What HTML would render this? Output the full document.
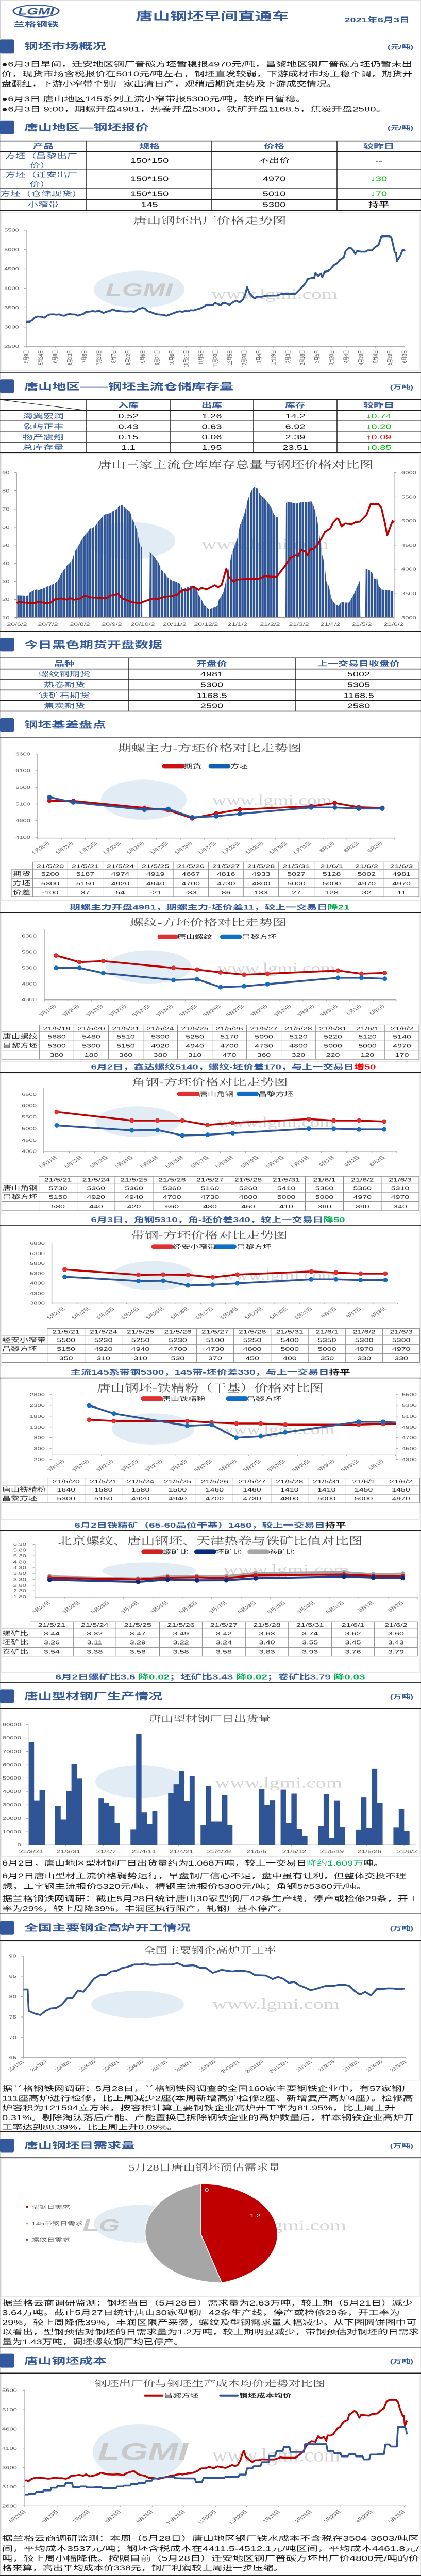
<!DOCTYPE html>
<html><head><meta charset="utf-8">
<style>
html,body{margin:0;padding:0;background:#fff;height:100%;overflow:hidden}
svg#pg{display:block;width:100vw;height:100vh;position:fixed;left:0;top:0}
text{font-family:"Liberation Sans","Noto Sans CJK SC",sans-serif}
.h{font-size:27px;font-weight:bold;fill:#34589c}
.u{font-size:17px;font-weight:bold;fill:#34589c;text-anchor:end}
.p{font-size:20.5px;fill:#1a1a1a}
.ct{font-family:"Liberation Serif","Noto Serif CJK SC",serif;font-size:28px;fill:#4a4a4a;text-anchor:middle}
.ax{font-size:13px;fill:#595959}
.axe{font-size:13px;fill:#595959;text-anchor:end}
.xl{font-size:12px;fill:#595959;text-anchor:end}
.th{font-size:20px;font-weight:bold;fill:#34589c;text-anchor:middle}
.tn{font-size:20px;fill:#111;text-anchor:middle}
.tl{font-size:20px;fill:#34589c;text-anchor:middle}
.tb{font-size:16px;fill:#262626;text-anchor:middle}
.tbl{font-size:17px;fill:#262626}
.sm{font-size:20px;font-weight:bold;fill:#34589c;text-anchor:middle}
.lg{font-size:17px;fill:#262626}
.wm{font-family:"Liberation Serif",serif;font-size:44px;fill:#d4d4d4}
.wl{font-size:52px;font-weight:bold;fill:#c9c9c9;font-style:italic}
path,polyline,line{vector-effect:non-scaling-stroke}
</style></head>
<body>
<svg id="pg" viewBox="0 0 817 7593" preserveAspectRatio="none" xmlns="http://www.w3.org/2000/svg">
<defs>
<pattern id="st" patternUnits="userSpaceOnUse" width="10.7" height="20"><rect x="0" y="0" width="8.6" height="20" fill="#2f5597"/></pattern>
</defs>
<rect x="0.5" y="0.5" width="815.5" height="7592" fill="#fff" stroke="#cfcfcf"/>

<ellipse cx="70" cy="33" rx="44" ry="18" fill="none" stroke="#34589c" stroke-width="3"/>
<text x="70" y="43" text-anchor="middle" style="font-size:28px;font-weight:bold;fill:#34589c;font-style:italic">LGMI</text>
<text x="70" y="79" text-anchor="middle" style="font-size:21px;font-weight:bold;fill:#34589c" textLength="88" lengthAdjust="spacingAndGlyphs">兰格钢铁</text>
<text x="412" y="59" text-anchor="middle" style="font-size:33px;font-weight:bold;fill:#34589c" textLength="297" lengthAdjust="spacingAndGlyphs">唐山钢坯早间直通车</text>
<text x="795" y="65" text-anchor="end" style="font-size:20px;font-weight:bold;fill:#34589c">2021年6月3日</text>

<rect x="0" y="116" width="27" height="41" rx="3" fill="#34589c"/>
<text class="h" x="47" y="146" textLength="159" lengthAdjust="spacingAndGlyphs">钢坯市场概况</text>
<text class="u" x="802" y="144">(元/吨)</text>

<text class="p" x="3" y="197" textLength="797" lengthAdjust="spacingAndGlyphs">●6月3日早间，迁安地区钢厂普碳方坯暂稳报4970元/吨，昌黎地区钢厂普碳方坯仍暂未出</text>
<text class="p" x="3" y="225" textLength="798" lengthAdjust="spacingAndGlyphs">价，现货市场含税报价在5010元/吨左右，钢坯直发较弱，下游成材市场主稳个调，期货开</text>
<text class="p" x="3" y="254" textLength="651" lengthAdjust="spacingAndGlyphs">盘翻红，下游小窄带个别厂家出清日产，观稍后期货走势及下游成交情况。</text>
<text class="p" x="3" y="299" textLength="591" lengthAdjust="spacingAndGlyphs">●6月3日  唐山地区145系列主流小窄带报5300元/吨，较昨日暂稳。</text>
<text class="p" x="3" y="329" textLength="747" lengthAdjust="spacingAndGlyphs">●6月3日  9:00，期螺开盘4981，热卷开盘5300，铁矿开盘1168.5，焦炭开盘2580。</text>

<rect x="0" y="355" width="27" height="41" rx="3" fill="#34589c"/>
<text class="h" x="47" y="385" textLength="242" lengthAdjust="spacingAndGlyphs">唐山地区—钢坯报价</text>
<text class="u" x="802" y="383">(元/吨)</text>

<g stroke="#1a1a1a" stroke-width="1.5">
<line x1="0" y1="415.5" x2="817" y2="415.5"/><line x1="0" y1="447" x2="817" y2="447"/><line x1="0" y1="500" x2="817" y2="500"/><line x1="0" y1="556" x2="817" y2="556"/><line x1="0" y1="588.6" x2="817" y2="588.6"/><line x1="0" y1="620" x2="817" y2="620"/>
<line x1="168" y1="415.5" x2="168" y2="620"/><line x1="411" y1="415.5" x2="411" y2="620"/><line x1="654" y1="415.5" x2="654" y2="620"/>
</g>
<text class="th" x="84" y="438">产品</text><text class="th" x="290" y="438">规格</text><text class="th" x="532" y="438">价格</text><text class="th" x="735" y="438">较昨日</text>
<text class="tl" x="80" y="466">方坯（昌黎出厂</text><text class="tl" x="78" y="495">价）</text>
<text class="tn" x="290" y="480">150*150</text><text class="tn" x="532" y="480">不出价</text><text class="tn" x="735" y="480" style="font-weight:bold">--</text>
<text class="tl" x="80" y="522">方坯（迁安出厂</text><text class="tl" x="78" y="550">价）</text>
<text class="tn" x="290" y="534">150*150</text><text class="tn" x="532" y="534">4970</text><text class="tn" x="735" y="534" style="fill:#00c000">↓30</text>
<text class="tl" x="80" y="578">方坯（仓储现货）</text>
<text class="tn" x="290" y="578">150*150</text><text class="tn" x="532" y="578">5010</text><text class="tn" x="735" y="578" style="fill:#00c000">↓70</text>
<text class="tl" x="84" y="610">小窄带</text>
<text class="tn" x="290" y="610">145</text><text class="tn" x="532" y="610">5300</text><text class="tn" x="735" y="610" style="font-weight:bold">持平</text>

<rect x="2" y="626" width="812" height="467" fill="none" stroke="#d9d9d9"/>
<ellipse cx="270" cy="853" rx="88" ry="55" fill="#dbe7f3" opacity=".8"/>
<text class="wl" x="205" y="872">LGMI</text>
<text class="wm" x="410" y="881" textLength="245" lengthAdjust="spacingAndGlyphs">www.lgmi.com</text>
<text class="ct" x="407" y="660" textLength="297" lengthAdjust="spacingAndGlyphs">唐山钢坯出厂价格走势图</text>
<g transform="translate(0,640) scale(.5211,.4082)">
<path d="M98 95V933H1508M90 95H98M90 235H98M90 375H98M90 514H98M90 654H98M90 794H98M90 933H98" fill="none" stroke="#999" stroke-width="1"/>
<path d="M98 933v9M152 933v9M206 933v9M260 933v9M315 933v9M369 933v9M423 933v9M477 933v9M531 933v9M585 933v9M640 933v9M694 933v9M748 933v9M802 933v9M856 933v9M910 933v9M964 933v9M1018 933v9M1073 933v9M1127 933v9M1181 933v9M1235 933v9M1290 933v9M1344 933v9M1398 933v9M1452 933v9M1507 933v9" stroke="#999" stroke-width="1"/>
<polyline fill="none" stroke="#2f5597" stroke-width="3.5" stroke-linejoin="round" points="98,755 110,755 120,745 130,725 140,718 155,720 165,727 175,712 185,703 200,702 210,705 220,702 230,710 240,712 250,703 260,700 270,703 280,703 290,712 300,705 310,700 320,685 335,682 345,678 355,682 370,676 385,692 395,684 410,676 420,666 430,675 450,680 470,682 490,680 500,684 515,665 530,656 540,660 550,680 560,685 570,692 580,700 590,703 605,705 620,712 640,698 660,684 670,680 680,684 690,677 700,680 710,672 720,674 730,668 745,660 760,645 770,633 780,633 793,635 800,620 812,628 822,636 830,620 840,622 855,633 870,612 880,603 892,616 905,595 913,560 920,506 930,550 945,583 950,585 955,575 975,575 990,568 1000,567 1030,566 1040,560 1050,553 1060,555 1100,555 1110,535 1130,495 1140,470 1145,448 1160,440 1170,440 1175,400 1185,425 1195,405 1200,435 1208,395 1220,390 1230,378 1240,355 1245,345 1255,335 1265,310 1280,290 1287,245 1300,222 1308,225 1315,240 1323,265 1330,245 1345,250 1360,250 1370,240 1385,240 1395,220 1410,200 1420,140 1430,138 1450,138 1458,150 1470,255 1475,260 1478,318 1490,280 1500,235 1505,238 1508,245"/>
</g>
<text class="axe" x="37" y="683">5500</text><text class="axe" x="37" y="740">5000</text><text class="axe" x="37" y="797">4500</text><text class="axe" x="37" y="854">4000</text><text class="axe" x="37" y="911">3500</text><text class="axe" x="37" y="968">3000</text><text class="axe" x="37" y="1025">2500</text>
<g>
<text class="xl" transform="translate(55,1032) rotate(-90)">5月9日</text>
<text class="xl" transform="translate(83,1032) rotate(-90)">5月24日</text>
<text class="xl" transform="translate(111,1032) rotate(-90)">6月8日</text>
<text class="xl" transform="translate(139.5,1032) rotate(-90)">6月23日</text>
<text class="xl" transform="translate(168,1032) rotate(-90)">7月8日</text>
<text class="xl" transform="translate(196,1032) rotate(-90)">7月23日</text>
<text class="xl" transform="translate(224.5,1032) rotate(-90)">8月7日</text>
<text class="xl" transform="translate(252.5,1032) rotate(-90)">8月22日</text>
<text class="xl" transform="translate(281,1032) rotate(-90)">9月6日</text>
<text class="xl" transform="translate(309,1032) rotate(-90)">9月21日</text>
<text class="xl" transform="translate(337.5,1032) rotate(-90)">10月6日</text>
<text class="xl" transform="translate(365.5,1032) rotate(-90)">10月21日</text>
<text class="xl" transform="translate(394,1032) rotate(-90)">11月5日</text>
<text class="xl" transform="translate(422,1032) rotate(-90)">11月20日</text>
<text class="xl" transform="translate(450,1032) rotate(-90)">12月5日</text>
<text class="xl" transform="translate(478,1032) rotate(-90)">12月20日</text>
<text class="xl" transform="translate(506.5,1032) rotate(-90)">1月4日</text>
<text class="xl" transform="translate(534.5,1032) rotate(-90)">1月19日</text>
<text class="xl" transform="translate(563,1032) rotate(-90)">2月3日</text>
<text class="xl" transform="translate(591,1032) rotate(-90)">2月18日</text>
<text class="xl" transform="translate(619.5,1032) rotate(-90)">3月5日</text>
<text class="xl" transform="translate(647.5,1032) rotate(-90)">3月20日</text>
<text class="xl" transform="translate(676,1032) rotate(-90)">4月4日</text>
<text class="xl" transform="translate(704.5,1032) rotate(-90)">4月19日</text>
<text class="xl" transform="translate(732.5,1032) rotate(-90)">5月4日</text>
<text class="xl" transform="translate(760.5,1032) rotate(-90)">5月19日</text>
<text class="xl" transform="translate(789,1032) rotate(-90)">6月3日</text>
</g>
<line x1="0" y1="1098" x2="817" y2="1098" stroke="#1a1a1a" stroke-width="1.5"/>

<rect x="0" y="1118" width="27" height="40" rx="3" fill="#34589c"/>
<text class="h" x="47" y="1149" textLength="406" lengthAdjust="spacingAndGlyphs">唐山地区——钢坯主流仓储库存量</text>
<text class="u" x="802" y="1147">(万吨)</text>

<g stroke="#1a1a1a" stroke-width="1.5">
<line x1="0" y1="1178" x2="817" y2="1178"/><line x1="0" y1="1210" x2="817" y2="1210"/><line x1="0" y1="1241" x2="817" y2="1241"/><line x1="0" y1="1273" x2="817" y2="1273"/><line x1="0" y1="1303" x2="817" y2="1303"/><line x1="0" y1="1334" x2="817" y2="1334"/>
<line x1="168" y1="1178" x2="168" y2="1334"/><line x1="330" y1="1178" x2="330" y2="1334"/><line x1="492" y1="1178" x2="492" y2="1334"/><line x1="654" y1="1178" x2="654" y2="1334"/>
<line x1="0" y1="1178" x2="168" y2="1210" stroke-width="1"/>
</g>
<text class="th" x="249" y="1201">入库</text><text class="th" x="411" y="1201">出库</text><text class="th" x="573" y="1201">库存</text><text class="th" x="735" y="1201">较昨日</text>
<text class="tl" x="84" y="1233">海翼宏润</text><text class="tn" x="249" y="1233">0.52</text><text class="tn" x="411" y="1233">1.26</text><text class="tn" x="573" y="1233">14.2</text><text class="tn" x="735" y="1233" style="fill:#00c000">↓0.74</text>
<text class="tl" x="84" y="1264">象屿正丰</text><text class="tn" x="249" y="1264">0.43</text><text class="tn" x="411" y="1264">0.63</text><text class="tn" x="573" y="1264">6.92</text><text class="tn" x="735" y="1264" style="fill:#00c000">↓0.20</text>
<text class="tl" x="84" y="1295">物产震翔</text><text class="tn" x="249" y="1295">0.15</text><text class="tn" x="411" y="1295">0.06</text><text class="tn" x="573" y="1295">2.39</text><text class="tn" x="735" y="1295" style="fill:#ff0000">↑0.09</text>
<text class="tl" x="84" y="1326">总库存量</text><text class="tn" x="249" y="1326">1.1</text><text class="tn" x="411" y="1326">1.95</text><text class="tn" x="573" y="1326">23.51</text><text class="tn" x="735" y="1326" style="fill:#00c000">↓0.85</text>

<rect x="2" y="1337" width="812" height="523" fill="none" stroke="#d9d9d9"/>
<ellipse cx="255" cy="1594" rx="85" ry="55" fill="#dbe7f3" opacity=".8"/>
<text class="wm" x="391" y="1618" textLength="247" lengthAdjust="spacingAndGlyphs">www.lgmi.com</text>
<text class="ct" x="457" y="1380" style="font-size:30px" textLength="534" lengthAdjust="spacingAndGlyphs">唐山三家主流仓库库存总量与钢坯价格对比图</text>
<g transform="translate(0,1280) scale(.5211,.4082)">
<polygon fill="url(#st)" points="62,1323 62,1162 100,1165 108,1160 110,1145 125,1128 135,1122 145,1125 160,1115 175,1100 185,1095 195,1085 205,1075 215,1060 225,1020 230,1000 240,975 250,945 260,930 270,900 278,850 290,810 295,795 305,760 315,730 325,710 335,680 345,676 355,660 365,635 375,610 385,585 395,575 410,570 420,555 435,540 445,515 455,512 465,530 475,545 485,560 490,600 500,640 510,690 515,745 520,790 528,815 530,1323 556,1323 558,850 568,870 580,900 590,925 600,975 612,1000 625,1035 640,1055 655,1065 670,1080 680,1120 705,1100 715,1095 730,1110 740,1160 750,1190 760,1235 770,1250 780,1270 790,1255 800,1250 810,1240 815,1195 825,1165 833,1135 840,1070 850,990 857,918 865,850 875,800 885,745 893,660 900,630 910,575 920,490 930,430 940,398 948,378 960,395 970,440 985,462 1000,500 1010,530 1020,580 1030,600 1036,595 1037,1323 1063,1323 1065,495 1075,487 1090,495 1105,500 1120,492 1135,490 1150,487 1160,485 1170,530 1180,600 1190,730 1200,875 1208,925 1215,1060 1225,1100 1235,1190 1245,1220 1260,1240 1272,1210 1285,1215 1300,1215 1310,1180 1320,1145 1330,1100 1340,1055 1342,1323 1360,1323 1362,972 1375,980 1385,1000 1395,1045 1405,1040 1410,1095 1420,1120 1430,1125 1445,1125 1460,1133 1468,1135 1468,1323"/>
<path d="M62 278V1323H1468V278M54 278H62M54 408H62M54 540H62M54 670H62M54 800H62M54 932H62M54 1063H62M54 1193H62M54 1323H62M1468 452H1476M1468 626H1476M1468 800H1476M1468 975H1476M1468 1150H1476M1468 278H1476M62 1323v10M177 1323v10M296 1323v10M415 1323v10M532 1323v10M651 1323v10M767 1323v10M885 1323v10M1005 1323v10M1112 1323v10M1230 1323v10M1347 1323v10M1466 1323v10" fill="none" stroke="#999" stroke-width="1"/>
<polyline fill="none" stroke="#c00000" stroke-width="3.5" stroke-linejoin="round" points="62,1218 70,1210 90,1215 110,1218 130,1220 140,1210 160,1215 170,1220 190,1215 205,1190 230,1185 250,1195 260,1180 275,1195 300,1185 315,1165 340,1178 380,1182 395,1185 410,1165 440,1152 455,1185 470,1195 490,1212 520,1220 540,1205 570,1185 585,1190 600,1182 615,1172 640,1168 660,1158 680,1125 700,1128 720,1100 740,1125 750,1110 770,1120 790,1100 800,1090 812,1105 825,1090 843,970 850,1025 870,1065 880,1050 910,1045 960,1045 985,1025 1030,1030 1060,955 1080,895 1100,875 1110,880 1120,835 1135,845 1145,875 1155,830 1170,825 1185,790 1195,760 1210,705 1230,680 1240,640 1255,608 1260,610 1272,665 1285,645 1310,650 1325,635 1340,632 1365,582 1380,505 1410,505 1420,530 1435,655 1442,730 1455,660 1462,628 1468,635"/>
</g>
<text class="ax" x="4" y="1398">90</text><text class="ax" x="4" y="1451">80</text><text class="ax" x="4" y="1505">70</text><text class="ax" x="4" y="1558">60</text><text class="ax" x="4" y="1611">50</text><text class="ax" x="4" y="1665">40</text><text class="ax" x="4" y="1718">30</text><text class="ax" x="4" y="1771">20</text><text class="ax" x="4" y="1825">10</text>
<text class="ax" x="779" y="1398">6000</text><text class="ax" x="779" y="1469">5500</text><text class="ax" x="779" y="1540">5000</text><text class="ax" x="779" y="1611">4500</text><text class="ax" x="779" y="1682">4000</text><text class="ax" x="779" y="1754">3500</text><text class="ax" x="779" y="1825">3000</text>
<g style="font-size:14px;fill:#595959;text-anchor:middle">
<text x="33" y="1845">20/6/2</text><text x="93" y="1845">20/7/2</text><text x="155" y="1845">20/8/2</text><text x="217" y="1845">20/9/2</text><text x="277" y="1845">20/10/2</text><text x="339" y="1845">20/11/2</text><text x="400" y="1845">20/12/2</text><text x="461" y="1845">21/1/2</text><text x="524" y="1845">21/2/2</text><text x="580" y="1845">21/3/2</text><text x="641" y="1845">21/4/2</text><text x="702" y="1845">21/5/2</text><text x="764" y="1845">21/6/2</text>
</g>
<line x1="0" y1="1861" x2="817" y2="1861" stroke="#1a1a1a" stroke-width="1.5"/>

<rect x="0" y="1880" width="27" height="40" rx="3" fill="#34589c"/>
<text class="h" x="47" y="1910" textLength="268" lengthAdjust="spacingAndGlyphs">今日黑色期货开盘数据</text>

<g stroke="#1a1a1a" stroke-width="1.5">
<line x1="0" y1="1939.6" x2="817" y2="1939.6"/><line x1="0" y1="1972" x2="817" y2="1972"/><line x1="0" y1="2003" x2="817" y2="2003"/><line x1="0" y1="2034" x2="817" y2="2034"/><line x1="0" y1="2065" x2="817" y2="2065"/><line x1="0" y1="2096.5" x2="817" y2="2096.5"/>
<line x1="249" y1="1939.6" x2="249" y2="2096.5"/><line x1="573" y1="1939.6" x2="573" y2="2096.5"/>
</g>
<text class="th" x="125" y="1963">品种</text><text class="th" x="411" y="1963">开盘价</text><text class="th" x="696" y="1963">上一交易日收盘价</text>
<text class="tl" x="125" y="1994">螺纹钢期货</text><text class="tn" x="411" y="1994">4981</text><text class="tn" x="696" y="1994">5002</text>
<text class="tl" x="125" y="2025">热卷期货</text><text class="tn" x="411" y="2025">5300</text><text class="tn" x="696" y="2025">5305</text>
<text class="tl" x="125" y="2057">铁矿石期货</text><text class="tn" x="411" y="2057">1168.5</text><text class="tn" x="696" y="2057">1168.5</text>
<text class="tl" x="125" y="2087">焦炭期货</text><text class="tn" x="411" y="2087">2590</text><text class="tn" x="696" y="2087">2580</text>

<rect x="0" y="2117" width="27" height="40" rx="3" fill="#34589c"/>
<text class="h" x="47" y="2146" textLength="159" lengthAdjust="spacingAndGlyphs">钢坯基差盘点</text>
<line x1="0" y1="2173" x2="817" y2="2173" stroke="#1a1a1a" stroke-width="1.5"/>

<rect x="2" y="2175" width="812" height="479" fill="none" stroke="#d9d9d9"/>
<ellipse cx="279" cy="2357" rx="83" ry="59" fill="#dbe7f3" opacity=".8"/>
<text class="wm" x="412" y="2373" textLength="232" lengthAdjust="spacingAndGlyphs">www.lgmi.com</text>
<text class="ct" x="407" y="2215" textLength="357" lengthAdjust="spacingAndGlyphs">期螺主力-方坯价格对比走势图</text>
<g transform="translate(0,1920) scale(.5211,.4082)">
<path d="M140 742V1348H1470M132 742H140M132 862H140M132 982H140M132 1102H140M132 1222H140M132 1343H140M140 1348v10M229 1348v10M318 1348v10M406 1348v10M494 1348v10M583 1348v10M672 1348v10M761 1348v10M849 1348v10M937 1348v10M1025 1348v10M1114 1348v10M1203 1348v10M1292 1348v10M1380 1348v10M1468 1348v10" fill="none" stroke="#aaa" stroke-width="1.5"/>
<polyline fill="none" stroke="#c00000" stroke-width="3.5" points="184,1078 273,1080 538,1130 627,1147 716,1205 805,1170 893,1142 1159,1118 1247,1095 1336,1125 1424,1130"/>
<polyline fill="none" stroke="#2f5597" stroke-width="3.5" points="184,1053 273,1090 538,1143 627,1138 716,1198 805,1190 893,1173 1159,1127 1247,1127 1336,1135 1424,1135"/>
<path d="M184 1078h0M273 1080h0M538 1130h0M627 1147h0M716 1205h0M805 1170h0M893 1142h0M1159 1118h0M1247 1095h0M1336 1125h0M1424 1130h0M612 828H680" stroke="#d01010" stroke-width="9" stroke-linecap="round" fill="none"/>
<path d="M184 1053h0M273 1090h0M538 1143h0M627 1138h0M716 1198h0M805 1190h0M893 1173h0M1159 1127h0M1247 1127h0M1336 1135h0M1424 1135h0M785 828H850" stroke="#0f5fb5" stroke-width="9" stroke-linecap="round" fill="none"/>
</g>
<text class="lg" x="357" y="2264">期货</text><text class="lg" x="447" y="2264">方坯</text>
<text class="axe" x="59" y="2227">6600</text><text class="axe" x="59" y="2276">6100</text><text class="axe" x="59" y="2325">5600</text><text class="axe" x="59" y="2374">5100</text><text class="axe" x="59" y="2423">4600</text><text class="axe" x="59" y="2472">4100</text>
<g>
<text class="xl" transform="translate(98,2486) rotate(-45)">5月20日</text>
<text class="xl" transform="translate(144,2486) rotate(-45)">5月21日</text>
<text class="xl" transform="translate(190,2486) rotate(-45)">5月22日</text>
<text class="xl" transform="translate(236,2486) rotate(-45)">5月23日</text>
<text class="xl" transform="translate(282,2486) rotate(-45)">5月24日</text>
<text class="xl" transform="translate(328,2486) rotate(-45)">5月25日</text>
<text class="xl" transform="translate(375,2486) rotate(-45)">5月26日</text>
<text class="xl" transform="translate(421,2486) rotate(-45)">5月27日</text>
<text class="xl" transform="translate(467,2486) rotate(-45)">5月28日</text>
<text class="xl" transform="translate(513,2486) rotate(-45)">5月29日</text>
<text class="xl" transform="translate(559,2486) rotate(-45)">5月30日</text>
<text class="xl" transform="translate(605,2486) rotate(-45)">5月31日</text>
<text class="xl" transform="translate(651,2486) rotate(-45)">6月1日</text>
<text class="xl" transform="translate(698,2486) rotate(-45)">6月2日</text>
<text class="xl" transform="translate(744,2486) rotate(-45)">6月3日</text>
</g>
<g stroke="#8c8c8c" stroke-width="1">
<line x1="63.6" y1="2541" x2="813" y2="2541"/><line x1="22" y1="2562" x2="813" y2="2562"/><line x1="22" y1="2589.4" x2="813" y2="2589.4"/><line x1="22" y1="2616.3" x2="813" y2="2616.3"/><line x1="22" y1="2643.7" x2="813" y2="2643.7"/>
<line x1="22" y1="2562" x2="22" y2="2643.7"/><line x1="63.6" y1="2541" x2="63.6" y2="2643.7"/><line x1="131.3" y1="2541" x2="131.3" y2="2643.7"/><line x1="199.6" y1="2541" x2="199.6" y2="2643.7"/><line x1="267.3" y1="2541" x2="267.3" y2="2643.7"/><line x1="336.1" y1="2541" x2="336.1" y2="2643.7"/><line x1="404.4" y1="2541" x2="404.4" y2="2643.7"/><line x1="472.7" y1="2541" x2="472.7" y2="2643.7"/><line x1="540.4" y1="2541" x2="540.4" y2="2643.7"/><line x1="609.7" y1="2541" x2="609.7" y2="2643.7"/><line x1="677.5" y1="2541" x2="677.5" y2="2643.7"/><line x1="745.2" y1="2541" x2="745.2" y2="2643.7"/><line x1="813" y1="2541" x2="813" y2="2643.7"/>
</g>
<g>
<text class="tb" x="97.5" y="2558">21/5/20</text><text class="tb" x="165.5" y="2558">21/5/21</text><text class="tb" x="233.5" y="2558">21/5/24</text><text class="tb" x="301.7" y="2558">21/5/25</text><text class="tb" x="370.3" y="2558">21/5/26</text><text class="tb" x="438.6" y="2558">21/5/27</text><text class="tb" x="506.6" y="2558">21/5/28</text><text class="tb" x="575" y="2558">21/5/31</text><text class="tb" x="643.6" y="2558">21/6/1</text><text class="tb" x="711.4" y="2558">21/6/2</text><text class="tb" x="779.1" y="2558">21/6/3</text>
<text class="tbl" x="25" y="2582">期货</text><text class="tb" x="97.5" y="2582">5200</text><text class="tb" x="165.5" y="2582">5187</text><text class="tb" x="233.5" y="2582">4974</text><text class="tb" x="301.7" y="2582">4919</text><text class="tb" x="370.3" y="2582">4667</text><text class="tb" x="438.6" y="2582">4816</text><text class="tb" x="506.6" y="2582">4933</text><text class="tb" x="575" y="2582">5027</text><text class="tb" x="643.6" y="2582">5128</text><text class="tb" x="711.4" y="2582">5002</text><text class="tb" x="779.1" y="2582">4981</text>
<text class="tbl" x="25" y="2609">方坯</text><text class="tb" x="97.5" y="2609">5300</text><text class="tb" x="165.5" y="2609">5150</text><text class="tb" x="233.5" y="2609">4920</text><text class="tb" x="301.7" y="2609">4940</text><text class="tb" x="370.3" y="2609">4700</text><text class="tb" x="438.6" y="2609">4730</text><text class="tb" x="506.6" y="2609">4800</text><text class="tb" x="575" y="2609">5000</text><text class="tb" x="643.6" y="2609">5000</text><text class="tb" x="711.4" y="2609">4970</text><text class="tb" x="779.1" y="2609">4970</text>
<text class="tbl" x="25" y="2636">价差</text><text class="tb" x="97.5" y="2636">-100</text><text class="tb" x="165.5" y="2636">37</text><text class="tb" x="233.5" y="2636">54</text><text class="tb" x="301.7" y="2636">-21</text><text class="tb" x="370.3" y="2636">-33</text><text class="tb" x="438.6" y="2636">86</text><text class="tb" x="506.6" y="2636">133</text><text class="tb" x="575" y="2636">27</text><text class="tb" x="643.6" y="2636">128</text><text class="tb" x="711.4" y="2636">32</text><text class="tb" x="779.1" y="2636">11</text>
</g>
<text class="sm" x="407" y="2681" textLength="543" lengthAdjust="spacingAndGlyphs">期螺主力开盘4981，期螺主力-坯价差11，较上一交易日<tspan fill="#00b050">降21</tspan></text>
<line x1="0" y1="2690" x2="817" y2="2690" stroke="#1a1a1a" stroke-width="1.5"/>

<rect x="2" y="2692" width="812" height="437" fill="none" stroke="#d9d9d9"/>
<ellipse cx="289" cy="2850" rx="83" ry="49" fill="#dbe7f3" opacity=".8"/>
<text class="wm" x="422" y="2868" textLength="229" lengthAdjust="spacingAndGlyphs">www.lgmi.com</text>
<text class="ct" x="404" y="2729" textLength="304" lengthAdjust="spacingAndGlyphs">螺纹-方坯价格对比走势图</text>
<g transform="translate(0,2560) scale(.5211,.4082)">
<path d="M165 440V948H1475M165 948v10M252 948v10M341 948v10M428 948v10M515 948v10M603 948v10M690 948v10M778 948v10M865 948v10M953 948v10M1040 948v10M1128 948v10M1215 948v10M1302 948v10M1390 948v10M1475 948v10" fill="none" stroke="#aaa" stroke-width="1.5"/>
<polyline fill="none" stroke="#c00000" stroke-width="3.5" points="209,628 296,676 384,668 646,718 734,730 821,750 909,767 996,760 1259,737 1346,760 1433,754"/>
<polyline fill="none" stroke="#2f5597" stroke-width="3.5" points="209,718 296,718 384,755 646,805 734,800 821,857 909,850 996,835 1259,789 1346,789 1433,796"/>
<path d="M209 628h0M296 676h0M384 668h0M646 718h0M734 730h0M821 750h0M909 767h0M996 760h0M1259 737h0M1346 760h0M1433 754h0M595 493H655" stroke="#e03030" stroke-width="9" stroke-linecap="round" fill="none"/>
<path d="M209 718h0M296 718h0M384 755h0M646 805h0M734 800h0M821 857h0M909 850h0M996 835h0M1259 789h0M1346 789h0M1433 796h0M828 493H892" stroke="#0f6fc6" stroke-width="9" stroke-linecap="round" fill="none"/>
</g>
<text class="lg" x="344" y="2767">唐山螺纹</text><text class="lg" x="469" y="2767">昌黎方坯</text>
<text class="axe" x="71" y="2763">6300</text><text class="axe" x="71" y="2810">5800</text><text class="axe" x="71" y="2857">5300</text><text class="axe" x="71" y="2904">4800</text><text class="axe" x="71" y="2951">4300</text>
<g>
<text class="xl" transform="translate(111,2966) rotate(-45)">5月19日</text>
<text class="xl" transform="translate(156,2966) rotate(-45)">5月20日</text>
<text class="xl" transform="translate(202,2966) rotate(-45)">5月21日</text>
<text class="xl" transform="translate(247,2966) rotate(-45)">5月22日</text>
<text class="xl" transform="translate(293,2966) rotate(-45)">5月23日</text>
<text class="xl" transform="translate(338,2966) rotate(-45)">5月24日</text>
<text class="xl" transform="translate(384,2966) rotate(-45)">5月25日</text>
<text class="xl" transform="translate(430,2966) rotate(-45)">5月26日</text>
<text class="xl" transform="translate(475,2966) rotate(-45)">5月27日</text>
<text class="xl" transform="translate(521,2966) rotate(-45)">5月28日</text>
<text class="xl" transform="translate(567,2966) rotate(-45)">5月29日</text>
<text class="xl" transform="translate(612,2966) rotate(-45)">5月30日</text>
<text class="xl" transform="translate(657,2966) rotate(-45)">5月31日</text>
<text class="xl" transform="translate(703,2966) rotate(-45)">6月1日</text>
<text class="xl" transform="translate(748,2966) rotate(-45)">6月2日</text>
</g>
<g stroke="#8c8c8c" stroke-width="1">
<line x1="76.6" y1="3021" x2="813" y2="3021"/><line x1="3" y1="3041.6" x2="813" y2="3041.6"/><line x1="3" y1="3068" x2="813" y2="3068"/><line x1="3" y1="3096" x2="813" y2="3096"/><line x1="3" y1="3122.4" x2="813" y2="3122.4"/>
<line x1="76.6" y1="3021" x2="76.6" y2="3122.4"/><line x1="143.3" y1="3021" x2="143.3" y2="3122.4"/><line x1="210.5" y1="3021" x2="210.5" y2="3122.4"/><line x1="277.8" y1="3021" x2="277.8" y2="3122.4"/><line x1="344.5" y1="3021" x2="344.5" y2="3122.4"/><line x1="411.7" y1="3021" x2="411.7" y2="3122.4"/><line x1="478.4" y1="3021" x2="478.4" y2="3122.4"/><line x1="545.6" y1="3021" x2="545.6" y2="3122.4"/><line x1="612.3" y1="3021" x2="612.3" y2="3122.4"/><line x1="679.5" y1="3021" x2="679.5" y2="3122.4"/><line x1="746.2" y1="3021" x2="746.2" y2="3122.4"/><line x1="813" y1="3021" x2="813" y2="3122.4"/>
</g>
<g>
<text class="tb" x="110" y="3037">21/5/19</text><text class="tb" x="177" y="3037">21/5/20</text><text class="tb" x="244" y="3037">21/5/21</text><text class="tb" x="311" y="3037">21/5/24</text><text class="tb" x="378" y="3037">21/5/25</text><text class="tb" x="445" y="3037">21/5/26</text><text class="tb" x="512" y="3037">21/5/27</text><text class="tb" x="579" y="3037">21/5/28</text><text class="tb" x="646" y="3037">21/5/31</text><text class="tb" x="713" y="3037">21/6/1</text><text class="tb" x="780" y="3037">21/6/2</text>
<text class="tbl" x="5" y="3061">唐山螺纹</text><text class="tb" x="110" y="3061">5680</text><text class="tb" x="177" y="3061">5480</text><text class="tb" x="244" y="3061">5510</text><text class="tb" x="311" y="3061">5300</text><text class="tb" x="378" y="3061">5250</text><text class="tb" x="445" y="3061">5170</text><text class="tb" x="512" y="3061">5090</text><text class="tb" x="579" y="3061">5120</text><text class="tb" x="646" y="3061">5220</text><text class="tb" x="713" y="3061">5120</text><text class="tb" x="780" y="3061">5140</text>
<text class="tbl" x="5" y="3088">昌黎方坯</text><text class="tb" x="110" y="3088">5300</text><text class="tb" x="177" y="3088">5300</text><text class="tb" x="244" y="3088">5150</text><text class="tb" x="311" y="3088">4920</text><text class="tb" x="378" y="3088">4940</text><text class="tb" x="445" y="3088">4700</text><text class="tb" x="512" y="3088">4730</text><text class="tb" x="579" y="3088">4800</text><text class="tb" x="646" y="3088">5000</text><text class="tb" x="713" y="3088">5000</text><text class="tb" x="780" y="3088">4970</text>
<text class="tb" x="110" y="3115">380</text><text class="tb" x="177" y="3115">180</text><text class="tb" x="244" y="3115">360</text><text class="tb" x="311" y="3115">380</text><text class="tb" x="378" y="3115">310</text><text class="tb" x="445" y="3115">470</text><text class="tb" x="512" y="3115">360</text><text class="tb" x="579" y="3115">320</text><text class="tb" x="646" y="3115">220</text><text class="tb" x="713" y="3115">120</text><text class="tb" x="780" y="3115">170</text>
</g>
<text class="sm" x="453" y="3152" textLength="553" lengthAdjust="spacingAndGlyphs">6月2日，鑫达螺纹5140，螺纹-坯价差170，与上一交易日<tspan fill="#ff0000">增50</tspan></text>
<line x1="0" y1="3161" x2="817" y2="3161" stroke="#1a1a1a" stroke-width="1.5"/>

<rect x="2" y="3163" width="812" height="415" fill="none" stroke="#d9d9d9"/>
<ellipse cx="267" cy="3306" rx="82" ry="45" fill="#dbe7f3" opacity=".8"/>
<text class="wm" x="422" y="3322" textLength="227" lengthAdjust="spacingAndGlyphs">www.lgmi.com</text>
<text class="ct" x="407" y="3200" textLength="303" lengthAdjust="spacingAndGlyphs">角钢-方坯价格对比走势图</text>
<g transform="translate(0,3200) scale(.5211,.4082)">
<path d="M163 15V475H1478M163 475v10M258 475v10M352 475v10M446 475v10M540 475v10M633 475v10M727 475v10M821 475v10M915 475v10M1009 475v10M1103 475v10M1197 475v10M1291 475v10M1385 475v10M1478 475v10" fill="none" stroke="#aaa" stroke-width="1.5"/>
<polyline fill="none" stroke="#c00000" stroke-width="3.5" points="211,190 491,252 586,252 679,252 773,284 867,269 1150,242 1243,252 1337,252 1431,259"/>
<polyline fill="none" stroke="#2f5597" stroke-width="3.5" points="211,287 491,323 586,320 679,360 773,355 867,343 1150,311 1243,311 1337,316 1431,316"/>
<path d="M211 190h0M491 252h0M586 252h0M679 252h0M773 284h0M867 269h0M1150 242h0M1243 252h0M1337 252h0M1431 259h0M668 60H735" stroke="#e03030" stroke-width="9" stroke-linecap="round" fill="none"/>
<path d="M211 287h0M491 323h0M586 320h0M679 360h0M773 355h0M867 343h0M1150 311h0M1243 311h0M1337 316h0M1431 316h0M890 60H955" stroke="#0f6fc6" stroke-width="9" stroke-linecap="round" fill="none"/>
</g>
<text class="lg" x="386" y="3231">唐山角钢</text><text class="lg" x="501" y="3231">昌黎方坯</text>
<text class="axe" x="71" y="3230">6500</text><text class="axe" x="71" y="3263">6000</text><text class="axe" x="71" y="3297">5500</text><text class="axe" x="71" y="3331">5000</text><text class="axe" x="71" y="3365">4500</text><text class="axe" x="71" y="3398">4000</text>
<g>
<text class="xl" transform="translate(112,3412) rotate(-45)">5月21日</text>
<text class="xl" transform="translate(161,3412) rotate(-45)">5月22日</text>
<text class="xl" transform="translate(210,3412) rotate(-45)">5月23日</text>
<text class="xl" transform="translate(259,3412) rotate(-45)">5月24日</text>
<text class="xl" transform="translate(308,3412) rotate(-45)">5月25日</text>
<text class="xl" transform="translate(357,3412) rotate(-45)">5月26日</text>
<text class="xl" transform="translate(406,3412) rotate(-45)">5月27日</text>
<text class="xl" transform="translate(454,3412) rotate(-45)">5月28日</text>
<text class="xl" transform="translate(503,3412) rotate(-45)">5月29日</text>
<text class="xl" transform="translate(552,3412) rotate(-45)">5月30日</text>
<text class="xl" transform="translate(601,3412) rotate(-45)">5月31日</text>
<text class="xl" transform="translate(650,3412) rotate(-45)">6月1日</text>
<text class="xl" transform="translate(699,3412) rotate(-45)">6月2日</text>
<text class="xl" transform="translate(748,3412) rotate(-45)">6月3日</text>
</g>
<g stroke="#8c8c8c" stroke-width="1">
<line x1="75.6" y1="3467.3" x2="813" y2="3467.3"/><line x1="3" y1="3487.8" x2="813" y2="3487.8"/><line x1="3" y1="3514.3" x2="813" y2="3514.3"/><line x1="3" y1="3542" x2="813" y2="3542"/><line x1="3" y1="3568.6" x2="813" y2="3568.6"/>
<line x1="75.6" y1="3467.3" x2="75.6" y2="3568.6"/><line x1="149.6" y1="3467.3" x2="149.6" y2="3568.6"/><line x1="223" y1="3467.3" x2="223" y2="3568.6"/><line x1="297" y1="3467.3" x2="297" y2="3568.6"/><line x1="370.5" y1="3467.3" x2="370.5" y2="3568.6"/><line x1="444.5" y1="3467.3" x2="444.5" y2="3568.6"/><line x1="518.5" y1="3467.3" x2="518.5" y2="3568.6"/><line x1="592.5" y1="3467.3" x2="592.5" y2="3568.6"/><line x1="666.5" y1="3467.3" x2="666.5" y2="3568.6"/><line x1="740" y1="3467.3" x2="740" y2="3568.6"/><line x1="813" y1="3467.3" x2="813" y2="3568.6"/>
</g>
<g>
<text class="tb" x="112.6" y="3483">21/5/21</text><text class="tb" x="186.3" y="3483">21/5/24</text><text class="tb" x="260" y="3483">21/5/25</text><text class="tb" x="333.8" y="3483">21/5/26</text><text class="tb" x="407.5" y="3483">21/5/27</text><text class="tb" x="481.5" y="3483">21/5/28</text><text class="tb" x="555.5" y="3483">21/5/31</text><text class="tb" x="629.5" y="3483">21/6/1</text><text class="tb" x="703.3" y="3483">21/6/2</text><text class="tb" x="776.5" y="3483">21/6/3</text>
<text class="tbl" x="5" y="3507">唐山角钢</text><text class="tb" x="112.6" y="3507">5730</text><text class="tb" x="186.3" y="3507">5360</text><text class="tb" x="260" y="3507">5360</text><text class="tb" x="333.8" y="3507">5360</text><text class="tb" x="407.5" y="3507">5160</text><text class="tb" x="481.5" y="3507">5260</text><text class="tb" x="555.5" y="3507">5410</text><text class="tb" x="629.5" y="3507">5360</text><text class="tb" x="703.3" y="3507">5360</text><text class="tb" x="776.5" y="3507">5310</text>
<text class="tbl" x="5" y="3534">昌黎方坯</text><text class="tb" x="112.6" y="3534">5150</text><text class="tb" x="186.3" y="3534">4920</text><text class="tb" x="260" y="3534">4940</text><text class="tb" x="333.8" y="3534">4700</text><text class="tb" x="407.5" y="3534">4730</text><text class="tb" x="481.5" y="3534">4800</text><text class="tb" x="555.5" y="3534">5000</text><text class="tb" x="629.5" y="3534">5000</text><text class="tb" x="703.3" y="3534">4970</text><text class="tb" x="776.5" y="3534">4970</text>
<text class="tb" x="112.6" y="3561">580</text><text class="tb" x="186.3" y="3561">440</text><text class="tb" x="260" y="3561">420</text><text class="tb" x="333.8" y="3561">660</text><text class="tb" x="407.5" y="3561">430</text><text class="tb" x="481.5" y="3561">460</text><text class="tb" x="555.5" y="3561">410</text><text class="tb" x="629.5" y="3561">360</text><text class="tb" x="703.3" y="3561">390</text><text class="tb" x="776.5" y="3561">340</text>
</g>
<text class="sm" x="423" y="3602" textLength="493" lengthAdjust="spacingAndGlyphs">6月3日，角钢5310，角-坯价差340，较上一交易日<tspan fill="#00b050">降50</tspan></text>
<line x1="0" y1="3611.4" x2="817" y2="3611.4" stroke="#1a1a1a" stroke-width="1.5"/>

<rect x="2" y="3613" width="812" height="413" fill="none" stroke="#d9d9d9"/>
<ellipse cx="297" cy="3760" rx="80" ry="43" fill="#dbe7f3" opacity=".8"/>
<text class="wm" x="430" y="3773" textLength="222" lengthAdjust="spacingAndGlyphs">www.lgmi.com</text>
<text class="ct" x="406" y="3651" textLength="304" lengthAdjust="spacingAndGlyphs">带钢-方坯价格对比走势图</text>
<g transform="translate(0,3200) scale(.5211,.4082)">
<path d="M193 1138V1571H1480M193 1571v10M287 1571v10M379 1571v10M471 1571v10M563 1571v10M655 1571v10M747 1571v10M839 1571v10M931 1571v10M1023 1571v10M1115 1571v10M1207 1571v10M1297 1571v10M1389 1571v10M1480 1571v10" fill="none" stroke="#aaa" stroke-width="1.5"/>
<polyline fill="none" stroke="#c00000" stroke-width="3.5" points="241,1328 516,1366 608,1364 700,1366 792,1384 884,1364 1159,1342 1251,1350 1343,1357 1435,1357"/>
<polyline fill="none" stroke="#2f5597" stroke-width="3.5" points="241,1380 516,1411 608,1409 700,1443 792,1438 884,1428 1159,1399 1251,1399 1343,1404 1435,1404"/>
<path d="M241 1328h0M516 1366h0M608 1364h0M700 1366h0M792 1384h0M884 1364h0M1159 1342h0M1251 1350h0M1343 1357h0M1435 1357h0M572 1163H638" stroke="#e03030" stroke-width="9" stroke-linecap="round" fill="none"/>
<path d="M241 1380h0M516 1411h0M608 1409h0M700 1443h0M792 1438h0M884 1428h0M1159 1399h0M1251 1399h0M1343 1404h0M1435 1404h0M806 1163H872" stroke="#0f6fc6" stroke-width="9" stroke-linecap="round" fill="none"/>
</g>
<text class="lg" x="335" y="3681">经安小窄带</text><text class="lg" x="459" y="3681">昌黎方坯</text>
<text class="axe" x="87" y="3669">6800</text><text class="axe" x="87" y="3699">6300</text><text class="axe" x="87" y="3728">5800</text><text class="axe" x="87" y="3758">5300</text><text class="axe" x="87" y="3787">4800</text><text class="axe" x="87" y="3817">4300</text><text class="axe" x="87" y="3846">3800</text>
<g>
<text class="xl" transform="translate(127,3858) rotate(-45)">5月21日</text>
<text class="xl" transform="translate(175,3858) rotate(-45)">5月22日</text>
<text class="xl" transform="translate(223,3858) rotate(-45)">5月23日</text>
<text class="xl" transform="translate(271,3858) rotate(-45)">5月24日</text>
<text class="xl" transform="translate(319,3858) rotate(-45)">5月25日</text>
<text class="xl" transform="translate(367,3858) rotate(-45)">5月26日</text>
<text class="xl" transform="translate(415,3858) rotate(-45)">5月27日</text>
<text class="xl" transform="translate(463,3858) rotate(-45)">5月28日</text>
<text class="xl" transform="translate(511,3858) rotate(-45)">5月29日</text>
<text class="xl" transform="translate(559,3858) rotate(-45)">5月30日</text>
<text class="xl" transform="translate(607,3858) rotate(-45)">5月31日</text>
<text class="xl" transform="translate(654,3858) rotate(-45)">6月1日</text>
<text class="xl" transform="translate(702,3858) rotate(-45)">6月2日</text>
<text class="xl" transform="translate(750,3858) rotate(-45)">6月3日</text>
</g>
<g stroke="#8c8c8c" stroke-width="1">
<line x1="91.7" y1="3915.5" x2="814.5" y2="3915.5"/><line x1="3" y1="3936" x2="814.5" y2="3936"/><line x1="3" y1="3962.4" x2="814.5" y2="3962.4"/><line x1="3" y1="3990" x2="814.5" y2="3990"/><line x1="3" y1="4016" x2="814.5" y2="4016"/>
<line x1="91.7" y1="3915.5" x2="91.7" y2="4016"/><line x1="164.7" y1="3915.5" x2="164.7" y2="4016"/><line x1="236.6" y1="3915.5" x2="236.6" y2="4016"/><line x1="308.5" y1="3915.5" x2="308.5" y2="4016"/><line x1="381.4" y1="3915.5" x2="381.4" y2="4016"/><line x1="453.4" y1="3915.5" x2="453.4" y2="4016"/><line x1="525.8" y1="3915.5" x2="525.8" y2="4016"/><line x1="598.8" y1="3915.5" x2="598.8" y2="4016"/><line x1="670.7" y1="3915.5" x2="670.7" y2="4016"/><line x1="742.6" y1="3915.5" x2="742.6" y2="4016"/><line x1="814.5" y1="3915.5" x2="814.5" y2="4016"/>
</g>
<g>
<text class="tb" x="128.2" y="3931">21/5/21</text><text class="tb" x="200.7" y="3931">21/5/24</text><text class="tb" x="272.6" y="3931">21/5/25</text><text class="tb" x="345" y="3931">21/5/26</text><text class="tb" x="417.4" y="3931">21/5/27</text><text class="tb" x="489.6" y="3931">21/5/28</text><text class="tb" x="562.3" y="3931">21/5/31</text><text class="tb" x="634.8" y="3931">21/6/1</text><text class="tb" x="706.7" y="3931">21/6/2</text><text class="tb" x="778.6" y="3931">21/6/3</text>
<text class="tbl" x="4" y="3955">经安小窄带</text><text class="tb" x="128.2" y="3955">5500</text><text class="tb" x="200.7" y="3955">5230</text><text class="tb" x="272.6" y="3955">5250</text><text class="tb" x="345" y="3955">5230</text><text class="tb" x="417.4" y="3955">5100</text><text class="tb" x="489.6" y="3955">5250</text><text class="tb" x="562.3" y="3955">5400</text><text class="tb" x="634.8" y="3955">5350</text><text class="tb" x="706.7" y="3955">5300</text><text class="tb" x="778.6" y="3955">5300</text>
<text class="tbl" x="4" y="3982">昌黎方坯</text><text class="tb" x="128.2" y="3982">5150</text><text class="tb" x="200.7" y="3982">4920</text><text class="tb" x="272.6" y="3982">4940</text><text class="tb" x="345" y="3982">4700</text><text class="tb" x="417.4" y="3982">4730</text><text class="tb" x="489.6" y="3982">4800</text><text class="tb" x="562.3" y="3982">5000</text><text class="tb" x="634.8" y="3982">5000</text><text class="tb" x="706.7" y="3982">4970</text><text class="tb" x="778.6" y="3982">4970</text>
<text class="tb" x="128.2" y="4008">350</text><text class="tb" x="200.7" y="4008">310</text><text class="tb" x="272.6" y="4008">310</text><text class="tb" x="345" y="4008">530</text><text class="tb" x="417.4" y="4008">370</text><text class="tb" x="489.6" y="4008">450</text><text class="tb" x="562.3" y="4008">400</text><text class="tb" x="634.8" y="4008">350</text><text class="tb" x="706.7" y="4008">330</text><text class="tb" x="778.6" y="4008">330</text>
</g>
<text class="sm" x="408" y="4052" textLength="543" lengthAdjust="spacingAndGlyphs">主流145系带钢5300，145带-坯价差330，与上一交易日<tspan fill="#111">持平</tspan></text>
<line x1="0" y1="4061.6" x2="817" y2="4061.6" stroke="#1a1a1a" stroke-width="1.5"/>

<rect x="2" y="4063" width="812" height="416" fill="none" stroke="#d9d9d9"/>
<ellipse cx="297" cy="4212" rx="80" ry="46" fill="#dbe7f3" opacity=".8"/>
<text class="wm" x="427" y="4228" textLength="222" lengthAdjust="spacingAndGlyphs">www.lgmi.com</text>
<text class="ct" x="408" y="4102" style="font-size:30px" textLength="440" lengthAdjust="spacingAndGlyphs">唐山钢坯-铁精粉（干基）价格对比图</text>
<g transform="translate(0,3840) scale(.5211,.4082)">
<path d="M193 663V1131M185 663H193M185 741H193M185 819H193M185 897H193M185 975H193M185 1053H193M185 1131H193M1475 663V1131M1475 663H1483M1475 741H1483M1475 819H1483M1475 897H1483M1475 975H1483M1475 1053H1483M1475 1131H1483M193 1100H1475M193 1100v10M287 1100v10M377 1100v10M469 1100v10M559 1100v10M652 1100v10M742 1100v10M834 1100v10M926 1100v10M1016 1100v10M1108 1100v10M1199 1100v10M1291 1100v10M1381 1100v10M1473 1100v10" fill="none" stroke="#aaa" stroke-width="1.2"/>
<polyline fill="none" stroke="#c00000" stroke-width="3.5" points="332,845 424,854 697,854 788,865 880,872 971,872 1062,880 1336,880 1427,875 1475,875"/>
<polyline fill="none" stroke="#2f5597" stroke-width="3.5" points="332,742 424,800 697,888 788,881 880,975 971,965 1062,936 1336,860 1427,860 1475,866"/>
<path d="M332 845h0M424 854h0M697 854h0M788 865h0M880 872h0M971 872h0M1062 880h0M1336 880h0M1427 875h0M533 692H598" stroke="#e03030" stroke-width="9" stroke-linecap="round" fill="none"/>
<path d="M332 742h0M424 800h0M697 888h0M788 881h0M880 975h0M971 965h0M1062 936h0M1336 860h0M1427 860h0M850 692H915" stroke="#0f6fc6" stroke-width="9" stroke-linecap="round" fill="none"/>
</g>
<text class="lg" x="314" y="4129">唐山铁精粉</text><text class="lg" x="479" y="4129">昌黎方坯</text>
<text class="axe" x="87" y="4115">2800</text><text class="axe" x="87" y="4147">2300</text><text class="axe" x="87" y="4179">1800</text><text class="axe" x="87" y="4211">1300</text><text class="axe" x="87" y="4242">800</text><text class="axe" x="87" y="4274">300</text><text class="axe" x="87" y="4306">-200</text>
<text class="ax" x="780" y="4115">5500</text><text class="ax" x="780" y="4147">5300</text><text class="ax" x="780" y="4179">5100</text><text class="ax" x="780" y="4211">4900</text><text class="ax" x="780" y="4242">4700</text><text class="ax" x="780" y="4274">4500</text><text class="ax" x="780" y="4306">4300</text>
<g>
<text class="xl" transform="translate(127,4307) rotate(-45)">5月19日</text>
<text class="xl" transform="translate(175,4307) rotate(-45)">5月20日</text>
<text class="xl" transform="translate(222,4307) rotate(-45)">5月21日</text>
<text class="xl" transform="translate(270,4307) rotate(-45)">5月22日</text>
<text class="xl" transform="translate(317,4307) rotate(-45)">5月23日</text>
<text class="xl" transform="translate(365,4307) rotate(-45)">5月24日</text>
<text class="xl" transform="translate(413,4307) rotate(-45)">5月25日</text>
<text class="xl" transform="translate(461,4307) rotate(-45)">5月26日</text>
<text class="xl" transform="translate(508,4307) rotate(-45)">5月27日</text>
<text class="xl" transform="translate(555,4307) rotate(-45)">5月28日</text>
<text class="xl" transform="translate(603,4307) rotate(-45)">5月29日</text>
<text class="xl" transform="translate(651,4307) rotate(-45)">5月30日</text>
<text class="xl" transform="translate(698,4307) rotate(-45)">5月31日</text>
<text class="xl" transform="translate(746,4307) rotate(-45)">6月1日</text>
</g>
<g stroke="#8c8c8c" stroke-width="1">
<line x1="91.7" y1="4356.3" x2="814.5" y2="4356.3"/><line x1="3" y1="4378" x2="814.5" y2="4378"/><line x1="3" y1="4404" x2="814.5" y2="4404"/><line x1="3" y1="4429.8" x2="814.5" y2="4429.8"/>
<line x1="91.7" y1="4356.3" x2="91.7" y2="4429.8"/><line x1="164.7" y1="4356.3" x2="164.7" y2="4429.8"/><line x1="236.6" y1="4356.3" x2="236.6" y2="4429.8"/><line x1="308.5" y1="4356.3" x2="308.5" y2="4429.8"/><line x1="380.4" y1="4356.3" x2="380.4" y2="4429.8"/><line x1="452.3" y1="4356.3" x2="452.3" y2="4429.8"/><line x1="525.8" y1="4356.3" x2="525.8" y2="4429.8"/><line x1="597.7" y1="4356.3" x2="597.7" y2="4429.8"/><line x1="669.6" y1="4356.3" x2="669.6" y2="4429.8"/><line x1="741.5" y1="4356.3" x2="741.5" y2="4429.8"/><line x1="814.5" y1="4356.3" x2="814.5" y2="4429.8"/>
</g>
<g>
<text class="tb" x="128.2" y="4372">21/5/20</text><text class="tb" x="200.7" y="4372">21/5/21</text><text class="tb" x="272.6" y="4372">21/5/24</text><text class="tb" x="344.5" y="4372">21/5/25</text><text class="tb" x="416.4" y="4372">21/5/26</text><text class="tb" x="489" y="4372">21/5/27</text><text class="tb" x="561.8" y="4372">21/5/28</text><text class="tb" x="633.7" y="4372">21/5/31</text><text class="tb" x="705.6" y="4372">21/6/1</text><text class="tb" x="778" y="4372">21/6/2</text>
<text class="tbl" x="4" y="4396">唐山铁精粉</text><text class="tb" x="128.2" y="4396">1640</text><text class="tb" x="200.7" y="4396">1580</text><text class="tb" x="272.6" y="4396">1580</text><text class="tb" x="344.5" y="4396">1500</text><text class="tb" x="416.4" y="4396">1460</text><text class="tb" x="489" y="4396">1460</text><text class="tb" x="561.8" y="4396">1410</text><text class="tb" x="633.7" y="4396">1410</text><text class="tb" x="705.6" y="4396">1450</text><text class="tb" x="778" y="4396">1450</text>
<text class="tbl" x="4" y="4422">昌黎方坯</text><text class="tb" x="128.2" y="4422">5300</text><text class="tb" x="200.7" y="4422">5150</text><text class="tb" x="272.6" y="4422">4920</text><text class="tb" x="344.5" y="4422">4940</text><text class="tb" x="416.4" y="4422">4700</text><text class="tb" x="489" y="4422">4730</text><text class="tb" x="561.8" y="4422">4800</text><text class="tb" x="633.7" y="4422">5000</text><text class="tb" x="705.6" y="4422">5000</text><text class="tb" x="778" y="4422">4970</text>
</g>
<text class="sm" x="408" y="4503" textLength="527" lengthAdjust="spacingAndGlyphs">6月2日铁精矿（65-60品位干基）1450，较上一交易日<tspan fill="#111">持平</tspan></text>
<line x1="0" y1="4511.4" x2="817" y2="4511.4" stroke="#1a1a1a" stroke-width="1.5"/>

<rect x="2" y="4513" width="812" height="417" fill="none" stroke="#d9d9d9"/>
<ellipse cx="289" cy="4630" rx="91" ry="25" fill="#dbe7f3" opacity=".8"/>
<text class="wm" x="433" y="4641" textLength="245" lengthAdjust="spacingAndGlyphs">www.lgmi.com</text>
<text class="ct" x="408" y="4552" style="font-size:30px" textLength="591" lengthAdjust="spacingAndGlyphs">北京螺纹、唐山钢坯、天津热卷与铁矿比值对比图</text>
<g transform="translate(0,4480) scale(.5211,.4082)">
<path d="M130 176V558H1555M122 176H130M122 218H130M122 261H130M122 303H130M122 345H130M122 387H130M122 430H130M122 472H130M122 514H130M122 556H130M130 558v10M240 558v10M350 558v10M460 558v10M569 558v10M679 558v10M788 558v10M898 558v10M1007 558v10M1117 558v10M1226 558v10M1336 558v10M1445 558v10M1555 558v10" fill="none" stroke="#aaa" stroke-width="1.2"/>
<polyline fill="none" stroke="#a6a6a6" stroke-width="4" points="185,408 514,423 624,408 733,406 843,406 952,385 1281,378 1390,393 1500,389"/>
<polyline fill="none" stroke="#c00000" stroke-width="4" points="185,418 514,430 624,417 733,414 843,420 952,400 1281,395 1390,405 1500,405"/>
<polyline fill="none" stroke="#1f3f8f" stroke-width="4" points="185,432 514,447 624,430 733,436 843,435 952,421 1281,409 1390,416 1500,418"/>
<path d="M185 408h0M514 423h0M624 408h0M733 406h0M843 406h0M952 385h0M1281 378h0M1390 393h0M1500 389h0M930 230H995" stroke="#a6a6a6" stroke-width="9" stroke-linecap="round" fill="none"/>
<path d="M185 418h0M514 430h0M624 417h0M733 414h0M843 420h0M952 400h0M1281 395h0M1390 405h0M1500 405h0M535 230H600" stroke="#d02020" stroke-width="9" stroke-linecap="round" fill="none"/>
<path d="M185 432h0M514 447h0M624 430h0M733 436h0M843 435h0M952 421h0M1281 409h0M1390 416h0M1500 418h0M732 230H797" stroke="#0a2a80" stroke-width="9" stroke-linecap="round" fill="none"/>
</g>
<text class="lg" x="315" y="4580">螺矿比</text><text class="lg" x="418" y="4580">坯矿比</text><text class="lg" x="521" y="4580">卷矿比</text>
<text class="axe" x="51" y="4556">6.30</text><text class="axe" x="51" y="4573">5.80</text><text class="axe" x="51" y="4591">5.30</text><text class="axe" x="51" y="4608">4.80</text><text class="axe" x="51" y="4625">4.30</text><text class="axe" x="51" y="4642">3.80</text><text class="axe" x="51" y="4660">3.30</text><text class="axe" x="51" y="4677">2.80</text><text class="axe" x="51" y="4694">2.30</text><text class="axe" x="51" y="4711">1.80</text>
<g>
<text class="xl" transform="translate(98,4725) rotate(-45)">5月21日</text>
<text class="xl" transform="translate(156,4725) rotate(-45)">5月22日</text>
<text class="xl" transform="translate(213,4725) rotate(-45)">5月23日</text>
<text class="xl" transform="translate(270,4725) rotate(-45)">5月24日</text>
<text class="xl" transform="translate(327,4725) rotate(-45)">5月25日</text>
<text class="xl" transform="translate(384,4725) rotate(-45)">5月26日</text>
<text class="xl" transform="translate(441,4725) rotate(-45)">5月27日</text>
<text class="xl" transform="translate(498,4725) rotate(-45)">5月28日</text>
<text class="xl" transform="translate(555,4725) rotate(-45)">5月29日</text>
<text class="xl" transform="translate(612,4725) rotate(-45)">5月30日</text>
<text class="xl" transform="translate(669,4725) rotate(-45)">5月31日</text>
<text class="xl" transform="translate(726,4725) rotate(-45)">6月1日</text>
<text class="xl" transform="translate(784,4725) rotate(-45)">6月2日</text>
</g>
<g stroke="#8c8c8c" stroke-width="1">
<line x1="58.4" y1="4780.8" x2="810.3" y2="4780.8"/><line x1="3" y1="4800.4" x2="810.3" y2="4800.4"/><line x1="3" y1="4827.8" x2="810.3" y2="4827.8"/><line x1="3" y1="4855.5" x2="810.3" y2="4855.5"/><line x1="3" y1="4882" x2="810.3" y2="4882"/>
<line x1="58.4" y1="4780.8" x2="58.4" y2="4882"/><line x1="142.3" y1="4780.8" x2="142.3" y2="4882"/><line x1="225.1" y1="4780.8" x2="225.1" y2="4882"/><line x1="309.5" y1="4780.8" x2="309.5" y2="4882"/><line x1="392.4" y1="4780.8" x2="392.4" y2="4882"/><line x1="476.3" y1="4780.8" x2="476.3" y2="4882"/><line x1="559.7" y1="4780.8" x2="559.7" y2="4882"/><line x1="643.6" y1="4780.8" x2="643.6" y2="4882"/><line x1="726.4" y1="4780.8" x2="726.4" y2="4882"/><line x1="810.3" y1="4780.8" x2="810.3" y2="4882"/>
</g>
<g>
<text class="tb" x="100.4" y="4796">21/5/21</text><text class="tb" x="183.7" y="4796">21/5/24</text><text class="tb" x="267.3" y="4796">21/5/25</text><text class="tb" x="351" y="4796">21/5/26</text><text class="tb" x="434.4" y="4796">21/5/27</text><text class="tb" x="518" y="4796">21/5/28</text><text class="tb" x="601.7" y="4796">21/5/31</text><text class="tb" x="685" y="4796">21/6/1</text><text class="tb" x="768.4" y="4796">21/6/2</text>
<text class="tbl" x="4" y="4820">螺矿比</text><text class="tb" x="100.4" y="4820">3.44</text><text class="tb" x="183.7" y="4820">3.32</text><text class="tb" x="267.3" y="4820">3.47</text><text class="tb" x="351" y="4820">3.49</text><text class="tb" x="434.4" y="4820">3.42</text><text class="tb" x="518" y="4820">3.63</text><text class="tb" x="601.7" y="4820">3.74</text><text class="tb" x="685" y="4820">3.62</text><text class="tb" x="768.4" y="4820">3.60</text>
<text class="tbl" x="4" y="4847">坯矿比</text><text class="tb" x="100.4" y="4847">3.26</text><text class="tb" x="183.7" y="4847">3.11</text><text class="tb" x="267.3" y="4847">3.29</text><text class="tb" x="351" y="4847">3.22</text><text class="tb" x="434.4" y="4847">3.24</text><text class="tb" x="518" y="4847">3.40</text><text class="tb" x="601.7" y="4847">3.55</text><text class="tb" x="685" y="4847">3.45</text><text class="tb" x="768.4" y="4847">3.43</text>
<text class="tbl" x="4" y="4874">卷矿比</text><text class="tb" x="100.4" y="4874">3.54</text><text class="tb" x="183.7" y="4874">3.38</text><text class="tb" x="267.3" y="4874">3.56</text><text class="tb" x="351" y="4874">3.58</text><text class="tb" x="434.4" y="4874">3.58</text><text class="tb" x="518" y="4874">3.83</text><text class="tb" x="601.7" y="4874">3.93</text><text class="tb" x="685" y="4874">3.76</text><text class="tb" x="768.4" y="4874">3.79</text>
</g>
<text class="sm" x="408" y="4950" textLength="601" lengthAdjust="spacingAndGlyphs">6月2日螺矿比3.6 <tspan fill="#00b050">降0.02</tspan>；坯矿比3.43 <tspan fill="#00b050">降0.02</tspan>；卷矿比3.79 <tspan fill="#00b050">降0.03</tspan></text>
<line x1="0" y1="4959.6" x2="817" y2="4959.6" stroke="#1a1a1a" stroke-width="1.5"/>

<rect x="0" y="4980" width="27" height="40" rx="3" fill="#34589c"/>
<text class="h" x="47" y="5009" textLength="268" lengthAdjust="spacingAndGlyphs">唐山型材钢厂生产情况</text>
<text class="u" x="802" y="5007">(万吨)</text>
<line x1="0" y1="5036" x2="817" y2="5036" stroke="#1a1a1a" stroke-width="1.5"/>

<rect x="2" y="5038" width="812" height="434" fill="none" stroke="#d9d9d9"/>
<ellipse cx="272" cy="5251" rx="87" ry="48" fill="#dbe7f3" opacity=".8"/>
<text class="wm" x="417" y="5269" textLength="247" lengthAdjust="spacingAndGlyphs">www.lgmi.com</text>
<text class="ct" x="407" y="5075" style="font-size:26px" textLength="236" lengthAdjust="spacingAndGlyphs">唐山型材钢厂日出货量</text>
<g transform="translate(0,5120) scale(.5211,.4082)">
<path d="M105 -90V780H1550M97 -90H105M97 8H105M97 104H105M97 200H105M97 297H105M97 393H105M97 490H105M97 587H105M97 683H105M97 780H105M105 780v10M245 780v10M385 780v10M525 780v10M665 780v10M805 780v10M945 780v10M1085 780v10M1225 780v10M1365 780v10M1505 780v10" fill="none" stroke="#aaa" stroke-width="1.2"/>
<path fill="#2f5597" d="M107 37h20V780h-20zM127 458h20V780h-20zM147 385h20V780h-20zM205 500h21V780h-21zM226 595h20V780h-20zM246 390h20V780h-20zM266 194h21V780h-21zM287 301h20V780h-20zM367 441h20V780h-20zM387 475h20V780h-20zM407 500h20V780h-20zM427 620h20V780h-20zM486 669h21V780h-21zM507 -23h20V780h-20zM527 546h20V780h-20zM547 630h20V780h-20zM567 537h19V780h-19zM626 407h20V780h-20zM646 341h20V780h-20zM666 245h20V780h-20zM686 463h20V780h-20zM706 284h19V780h-19zM747 638h20V780h-20zM767 355h20V780h-20zM787 610h20V780h-20zM807 610h20V780h-20zM827 419h20V780h-20zM847 635h19V780h-19zM965 377h20V780h-20zM985 492h20V780h-20zM1005 456h20V780h-20zM1045 380h20V780h-20zM1065 620h20V780h-20zM1085 409h20V780h-20zM1105 666h20V780h-20zM1125 715h20V780h-20zM1185 642h20V780h-20zM1205 414h20V780h-20zM1225 728h20V780h-20zM1245 458h20V780h-20zM1265 652h20V780h-20zM1325 671h20V780h-20zM1345 434h20V780h-20zM1365 657h20V780h-20zM1385 228h20V780h-20zM1405 478h20V780h-20zM1465 654h20V780h-20zM1485 522h20V780h-20zM1505 679h20V780h-20z"/>
</g>
<text class="axe" x="41" y="5088">90000</text><text class="axe" x="41" y="5127">80000</text><text class="axe" x="41" y="5167">70000</text><text class="axe" x="41" y="5206">60000</text><text class="axe" x="41" y="5245">50000</text><text class="axe" x="41" y="5285">40000</text><text class="axe" x="41" y="5324">30000</text><text class="axe" x="41" y="5364">20000</text><text class="axe" x="41" y="5403">10000</text><text class="axe" x="41" y="5443">0</text>
<g style="font-size:14px;fill:#595959;text-anchor:middle">
<text x="60" y="5462">21/3/24</text><text x="133" y="5462">21/3/31</text><text x="206" y="5462">21/4/7</text><text x="279" y="5462">21/4/14</text><text x="352" y="5462">21/4/21</text><text x="425" y="5462">21/4/28</text><text x="498" y="5462">21/5/5</text><text x="571" y="5462">21/5/12</text><text x="644" y="5462">21/5/19</text><text x="717" y="5462">21/5/26</text><text x="790" y="5462">21/6/2</text>
</g>
<text class="p" x="4" y="5499" textLength="741" lengthAdjust="spacingAndGlyphs">6月2日，唐山地区型材钢厂日出货量约为1.068万吨，较上一交易日<tspan fill="#00b050">降约1.609万</tspan>吨。</text>
<text class="p" x="4" y="5537" textLength="784" lengthAdjust="spacingAndGlyphs">6月2日唐山型材主流价格弱势运行，早盘钢厂信心不足，盘中虽有让利，但整体交投不理</text>
<text class="p" x="4" y="5567" textLength="708" lengthAdjust="spacingAndGlyphs">想，工字钢主流报价5320元/吨，槽钢主流报价5300元/吨；角钢5#5360元/吨。</text>
<text class="p" x="4" y="5604" textLength="808" lengthAdjust="spacingAndGlyphs">据兰格钢铁网调研：截止5月28日统计唐山30家型钢厂42条生产线，停产或检修29条，开工</text>
<text class="p" x="4" y="5633" textLength="555" lengthAdjust="spacingAndGlyphs">率为29%，较上周降39%，丰润区执行限产，轧钢厂基本停产。</text>
<line x1="0" y1="5642" x2="817" y2="5642" stroke="#1a1a1a" stroke-width="1.5"/>

<rect x="0" y="5662" width="27" height="40" rx="3" fill="#34589c"/>
<text class="h" x="47" y="5692" textLength="323" lengthAdjust="spacingAndGlyphs">全国主要钢企高炉开工情况</text>
<text class="u" x="802" y="5690">(万吨)</text>
<line x1="0" y1="5720" x2="817" y2="5720" stroke="#1a1a1a" stroke-width="1.5"/>

<rect x="2" y="5722" width="812" height="410" fill="none" stroke="#d9d9d9"/>
<ellipse cx="267" cy="5908" rx="90" ry="40" fill="#dbe7f3" opacity=".8"/>
<text class="wm" x="412" y="5921" textLength="247" lengthAdjust="spacingAndGlyphs">www.lgmi.com</text>
<text class="ct" x="407" y="5758" style="font-size:26px" textLength="258" lengthAdjust="spacingAndGlyphs">全国主要钢企高炉开工率</text>
<g transform="translate(0,5760) scale(.5211,.4082)">
<path d="M87 14V747H1512M79 14H87M79 160H87M79 307H87M79 454H87M79 600H87M79 747H87M87 747v10M172 747v10M262 747v10M352 747v10M441 747v10M531 747v10M621 747v10M711 747v10M800 747v10M890 747v10M980 747v10M1070 747v10M1160 747v10M1243 747v10M1335 747v10M1422 747v10M1512 747v10" fill="none" stroke="#aaa" stroke-width="1.2"/>
<polyline fill="none" stroke="#2f5597" stroke-width="3.5" stroke-linejoin="round" points="87,255 103,255 107,410 130,430 150,440 170,410 190,392 210,388 230,365 250,320 270,318 290,262 310,272 330,225 350,178 375,150 395,150 415,125 435,120 455,100 475,92 500,75 525,75 540,68 560,78 580,78 600,75 640,75 660,65 685,85 720,80 745,98 765,98 792,135 805,128 825,113 845,120 865,125 885,120 910,122 930,128 950,152 970,153 990,155 1015,180 1035,165 1055,178 1075,208 1095,200 1115,225 1135,240 1157,260 1175,252 1195,240 1215,228 1240,230 1265,220 1285,222 1300,228 1320,265 1340,292 1360,273 1382,298 1403,252 1420,252 1445,247 1465,248 1485,253 1508,248"/>
</g>
<text class="axe" x="32" y="5770">90</text><text class="axe" x="32" y="5830">85</text><text class="axe" x="32" y="5890">80</text><text class="axe" x="32" y="5950">75</text><text class="axe" x="32" y="6010">70</text><text class="axe" x="32" y="6069">65</text>
<g>
<text class="xl" transform="translate(48,6078) rotate(-45)">20/1/31</text>
<text class="xl" transform="translate(92,6078) rotate(-45)">20/2/29</text>
<text class="xl" transform="translate(139,6078) rotate(-45)">20/3/31</text>
<text class="xl" transform="translate(186,6078) rotate(-45)">20/4/30</text>
<text class="xl" transform="translate(232,6078) rotate(-45)">20/5/31</text>
<text class="xl" transform="translate(279,6078) rotate(-45)">20/6/30</text>
<text class="xl" transform="translate(326,6078) rotate(-45)">20/7/31</text>
<text class="xl" transform="translate(373,6078) rotate(-45)">20/8/31</text>
<text class="xl" transform="translate(419,6078) rotate(-45)">20/9/30</text>
<text class="xl" transform="translate(466,6078) rotate(-45)">20/10/31</text>
<text class="xl" transform="translate(513,6078) rotate(-45)">20/11/30</text>
<text class="xl" transform="translate(560,6078) rotate(-45)">20/12/31</text>
<text class="xl" transform="translate(607,6078) rotate(-45)">21/1/31</text>
<text class="xl" transform="translate(650,6078) rotate(-45)">21/2/28</text>
<text class="xl" transform="translate(698,6078) rotate(-45)">21/3/31</text>
<text class="xl" transform="translate(743,6078) rotate(-45)">21/4/30</text>
<text class="xl" transform="translate(790,6078) rotate(-45)">21/5/31</text>
</g>
<text class="p" x="4" y="6163" textLength="796" lengthAdjust="spacingAndGlyphs">据兰格钢铁网调研：5月28日，兰格钢铁网调查的全国160家主要钢铁企业中，有57家钢厂</text>
<text class="p" x="4" y="6192" textLength="798" lengthAdjust="spacingAndGlyphs">111座高炉进行检修，比上周减少2座(本周新增高炉检修2座、新增复产高炉4座）。检修高</text>
<text class="p" x="4" y="6220" textLength="763" lengthAdjust="spacingAndGlyphs">炉容积为121594立方米，按容积计算主要钢铁企业高炉开工率为81.95%，比上周上升</text>
<text class="p" x="4" y="6249" textLength="799" lengthAdjust="spacingAndGlyphs">0.31%。剔除淘汰落后产能、产能置换已拆除钢铁企业的高炉数量后，样本钢铁企业高炉开</text>
<text class="p" x="4" y="6277" textLength="340" lengthAdjust="spacingAndGlyphs">工率达到88.39%，比上周上升0.09%。</text>
<line x1="0" y1="6283" x2="817" y2="6283" stroke="#1a1a1a" stroke-width="1.5"/>

<rect x="0" y="6304" width="27" height="40" rx="3" fill="#34589c"/>
<text class="h" x="47" y="6333" textLength="215" lengthAdjust="spacingAndGlyphs">唐山钢坯日需求量</text>
<text class="u" x="802" y="6331">(万吨)</text>
<line x1="0" y1="6360" x2="817" y2="6360" stroke="#1a1a1a" stroke-width="1.5"/>

<rect x="2" y="6362" width="812" height="407" fill="none" stroke="#d9d9d9"/>
<ellipse cx="272" cy="6555" rx="90" ry="56" fill="#dbe7f3" opacity=".8"/>
<text class="wl" x="160" y="6577">LG</text>
<text class="wm" x="420" y="6573" textLength="252" lengthAdjust="spacingAndGlyphs">www.lgmi.com</text>
<text class="ct" x="397" y="6398" style="font-size:26px" textLength="295" lengthAdjust="spacingAndGlyphs">5月28日唐山钢坯预估需求量</text>
<path d="M389.8 6585.7L389.8 6436.7A149 149 0 0 1 430.4 6729Z" fill="#c00000" stroke="#fff" stroke-width="1.5"/>
<path d="M389.8 6585.7L430.4 6729A149 149 0 0 1 389.8 6436.7Z" fill="#a6a6a6" stroke="#fff" stroke-width="1.5"/>
<text x="397" y="6460" style="font-size:15px;fill:#fff">0</text>
<text x="485" y="6536" style="font-size:15px;fill:#fff">1.2</text>
<text x="253" y="6617" style="font-size:15px;fill:#fff">1.43</text>
<rect x="50" y="6502" width="5" height="5" fill="#c00000"/><text x="61" y="6510" style="font-size:15px;fill:#595959">型钢日需求</text>
<rect x="50" y="6551" width="5" height="5" fill="#a6a6a6"/><text x="61" y="6559" style="font-size:15px;fill:#595959">145带钢日需求</text>
<rect x="50" y="6599" width="5" height="5" fill="#2f5597"/><text x="61" y="6607" style="font-size:15px;fill:#595959">螺纹日需求</text>
<text class="p" x="4" y="6796" textLength="797" lengthAdjust="spacingAndGlyphs">据兰格云商调研监测：钢坯当日（5月28日）需求量为2.63万吨，较上期（5月21日）减少</text>
<text class="p" x="4" y="6824" textLength="772" lengthAdjust="spacingAndGlyphs">3.64万吨。截止5月27日统计唐山30家型钢厂42条生产线，停产或检修29条，开工率为</text>
<text class="p" x="4" y="6853" textLength="804" lengthAdjust="spacingAndGlyphs">29%，较上周降低39%，丰润区限产来袭，螺纹及型钢需求量大幅减少。从下图圆饼图中可</text>
<text class="p" x="4" y="6881" textLength="809" lengthAdjust="spacingAndGlyphs">以看出，型钢预估对钢坯的日需求量为1.2万吨，较上期明显减少，带钢预估对钢坯的日需求</text>
<text class="p" x="4" y="6910" textLength="353" lengthAdjust="spacingAndGlyphs">量为1.43万吨，调坯螺纹钢厂均已停产。</text>
<line x1="0" y1="6918.4" x2="817" y2="6918.4" stroke="#1a1a1a" stroke-width="1.5"/>

<rect x="0" y="6938" width="27" height="41" rx="3" fill="#34589c"/>
<text class="h" x="47" y="6968" textLength="160" lengthAdjust="spacingAndGlyphs">唐山钢坯成本</text>
<text class="u" x="802" y="6966">(万吨)</text>
<line x1="0" y1="6995" x2="817" y2="6995" stroke="#1a1a1a" stroke-width="1.5"/>

<rect x="2" y="6997" width="812" height="463" fill="none" stroke="#d9d9d9"/>
<ellipse cx="270" cy="7227" rx="90" ry="82" fill="#dbe7f3" opacity=".8"/>
<text class="wl" x="190" y="7250" style="font-size:70px">LGMI</text>
<text class="wm" x="412" y="7255" style="font-size:56px" textLength="248" lengthAdjust="spacingAndGlyphs">www.lgmi.com</text>
<text class="ct" x="407" y="7034" style="font-size:24px" textLength="447" lengthAdjust="spacingAndGlyphs">钢坯出厂价与钢坯生产成本均价走势对比图</text>
<g transform="translate(0,7040) scale(.5211,.3527)">
<path d="M92 15V984H1515M84 15H92M84 177H92M84 338H92M84 499H92M84 661H92M84 822H92M84 984H92M92 984v10M213 984v10M330 984v10M448 984v10M567 984v10M685 984v10M803 984v10M918 984v10M1038 984v10M1158 984v10M1266 984v10M1385 984v10M1505 984v10" fill="none" stroke="#aaa" stroke-width="1.2"/>
<polyline fill="none" stroke="#c00000" stroke-width="3.5" stroke-linejoin="round" points="92,770 100,768 105,778 115,760 125,750 135,745 150,748 165,750 180,755 190,752 205,745 215,750 230,750 245,755 255,748 265,730 280,728 295,722 310,730 320,718 335,735 350,728 365,718 375,705 390,712 400,718 420,720 440,718 460,725 470,710 490,695 500,692 510,710 520,722 540,730 555,748 570,748 590,756 610,745 630,733 650,725 670,715 680,720 700,710 720,705 735,690 750,668 765,668 780,655 795,668 810,652 830,660 840,665 850,655 865,640 875,650 885,640 895,600 903,545 908,520 915,570 930,600 940,615 950,600 965,600 975,592 990,594 1020,594 1030,588 1045,576 1055,580 1080,580 1100,580 1115,555 1130,525 1140,480 1150,455 1160,440 1175,445 1185,400 1195,420 1205,405 1215,438 1220,393 1230,395 1240,385 1250,355 1258,330 1265,325 1275,290 1285,275 1295,265 1300,220 1310,205 1320,188 1328,200 1338,245 1345,220 1360,225 1375,228 1385,215 1405,210 1420,180 1430,165 1440,110 1450,96 1475,96 1482,115 1490,175 1500,232 1503,228 1508,308 1512,290 1516,270"/>
<polyline fill="none" stroke="#2f5597" stroke-width="3.5" stroke-linejoin="round" points="92,887 105,887 108,880 130,880 135,865 160,865 163,852 188,852 191,830 210,830 215,815 240,815 245,790 268,790 272,825 295,825 300,820 320,820 325,828 350,828 355,826 378,826 382,835 432,835 436,820 458,820 462,812 485,812 488,800 512,800 516,790 540,790 545,772 565,772 570,753 590,753 595,745 650,740 652,750 680,752 725,752 730,783 752,783 758,748 835,748 840,738 888,738 892,720 915,720 920,668 940,668 945,650 970,650 975,617 1000,617 1003,565 1025,565 1030,522 1053,522 1057,490 1078,490 1082,530 1132,530 1136,465 1215,465 1220,522 1240,522 1245,540 1268,540 1272,568 1295,568 1300,550 1322,550 1326,568 1350,568 1355,593 1375,593 1380,553 1405,553 1410,548 1430,548 1435,468 1450,468 1455,485 1478,485 1482,322 1508,322 1512,340 1515,385"/>
<path d="M540 60H605" stroke="#c00000" stroke-width="4" stroke-linecap="round"/>
<path d="M820 60H885" stroke="#2f5597" stroke-width="4" stroke-linecap="round"/>
</g>
<text class="lg" x="318" y="7067">昌黎方坯</text><text class="lg" x="464" y="7067" style="font-weight:bold">钢坯成本均价</text>
<text class="ax" x="4" y="7050">5600</text><text class="ax" x="4" y="7107">5100</text><text class="ax" x="4" y="7164">4600</text><text class="ax" x="4" y="7221">4100</text><text class="ax" x="4" y="7278">3600</text><text class="ax" x="4" y="7335">3100</text><text class="ax" x="4" y="7392">2600</text>
<g>
<text class="xl" transform="translate(51,7403) rotate(-50)">5月25日</text>
<text class="xl" transform="translate(114,7403) rotate(-50)">6月25日</text>
<text class="xl" transform="translate(175,7403) rotate(-50)">7月25日</text>
<text class="xl" transform="translate(236,7403) rotate(-50)">8月25日</text>
<text class="xl" transform="translate(298,7403) rotate(-50)">9月25日</text>
<text class="xl" transform="translate(360,7403) rotate(-50)">10月25日</text>
<text class="xl" transform="translate(421,7403) rotate(-50)">11月25日</text>
<text class="xl" transform="translate(481,7403) rotate(-50)">12月25日</text>
<text class="xl" transform="translate(544,7403) rotate(-50)">1月25日</text>
<text class="xl" transform="translate(606,7403) rotate(-50)">2月25日</text>
<text class="xl" transform="translate(662,7403) rotate(-50)">3月25日</text>
<text class="xl" transform="translate(724,7403) rotate(-50)">4月25日</text>
<text class="xl" transform="translate(787,7403) rotate(-50)">5月25日</text>
</g>
<text class="p" x="4" y="7490" textLength="809" lengthAdjust="spacingAndGlyphs">据兰格云商调研监测：本周（5月28日）唐山地区钢厂铁水成本不含税在3504-3603/吨区</text>
<text class="p" x="4" y="7519" textLength="809" lengthAdjust="spacingAndGlyphs">间，平均成本3537元/吨；钢坯含税成本在4411.5-4512.1元/吨区间，平均成本4461.8元/</text>
<text class="p" x="4" y="7548" textLength="809" lengthAdjust="spacingAndGlyphs">吨，较上周小幅降低。按照目前（5月28日）迁安地区钢厂普碳方坯出厂价4800元/吨的价</text>
<text class="p" x="4" y="7576" textLength="546" lengthAdjust="spacingAndGlyphs">格来算，高出平均成本价338元，钢厂利润较上周进一步压缩。</text>
<line x1="0" y1="7592" x2="817" y2="7592" stroke="#1a1a1a" stroke-width="1.5"/>
</svg>
</body></html>
